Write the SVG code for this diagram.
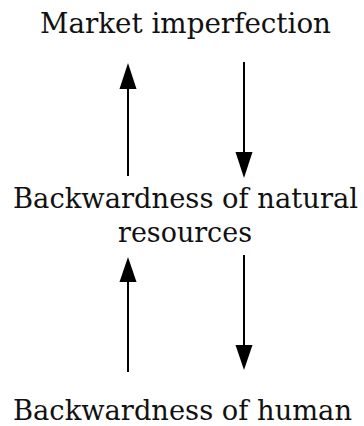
<svg xmlns="http://www.w3.org/2000/svg" width="364" height="426" viewBox="0 0 364 426">
<defs>
<style>
text{font-family:"DejaVu Serif","Liberation Serif",serif;font-size:28.5px;fill:#111;text-anchor:middle}
.c{stroke:#000;stroke-width:2;fill:none}
.h{fill:#000}
</style>
</defs>
<rect width="364" height="426" fill="#fff"/>
<g id="market"><text x="185.5" y="33" textLength="291" lengthAdjust="spacingAndGlyphs">Market imperfection</text></g>
<g id="natural"><text x="185.5" y="208" textLength="345" lengthAdjust="spacingAndGlyphs">Backwardness of natural</text><text x="185" y="242" textLength="134" lengthAdjust="spacingAndGlyphs">resources</text></g>
<g id="human"><text x="182.5" y="420" textLength="339" lengthAdjust="spacingAndGlyphs">Backwardness of human</text></g>
<g id="connectors">
<path d="M128,176 L128,89" class="c"/><path d="M119.5,89 L128,63 L136.5,89 Z" class="h"/>
<path d="M244,62 L244,152" class="c"/><path d="M235.5,152 L244,178 L252.5,152 Z" class="h"/>
<path d="M128,372 L128,282" class="c"/><path d="M119.5,282 L128,257 L136.5,282 Z" class="h"/>
<path d="M244,255 L244,345" class="c"/><path d="M235.5,345 L244,370 L252.5,345 Z" class="h"/>
</g>
</svg>
